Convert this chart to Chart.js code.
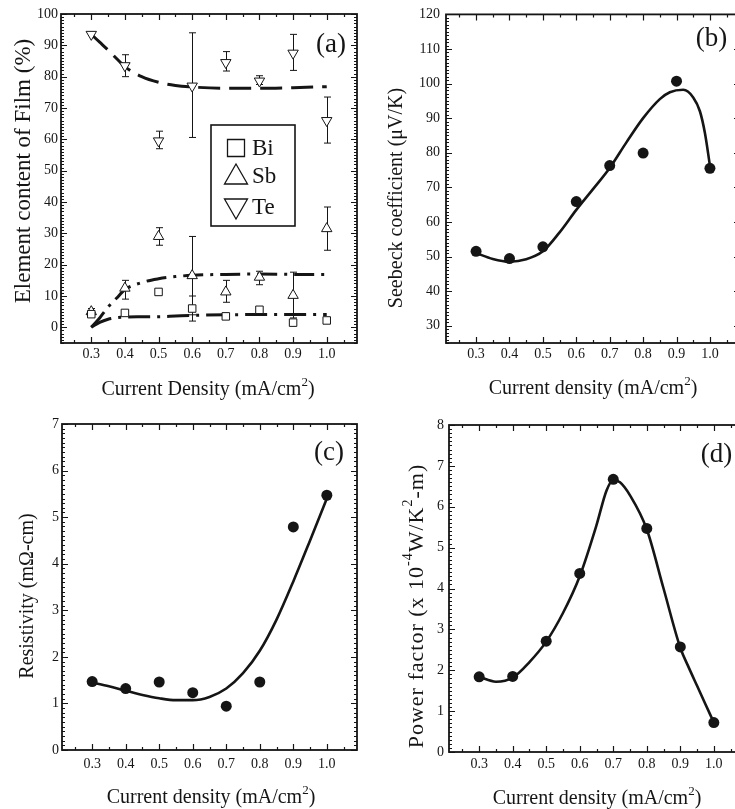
<!DOCTYPE html>
<html>
<head>
<meta charset="utf-8">
<script src="https://cdn.jsdelivr.net/npm/chart.js@4.4.0/dist/chart.umd.min.js"></script>
<style>
  html, body { margin: 0; padding: 0; background: #fff; width: 735px; height: 809px; overflow: hidden; }
  canvas { position: absolute; display: block; }
</style>
</head>
<body>
<canvas id="panelA" width="370" height="405" style="left:0;top:0"></canvas>
<canvas id="panelB" width="390" height="405" style="left:370px;top:0"></canvas>
<canvas id="panelC" width="370" height="404" style="left:0;top:405px"></canvas>
<canvas id="panelD" width="390" height="404" style="left:370px;top:405px"></canvas>
<script>
// ---------- data ----------
const currentDensity = [0.3, 0.4, 0.5, 0.6, 0.7, 0.8, 0.9, 1.0];
const xTickValues = [0.3, 0.4, 0.5, 0.6, 0.7, 0.8, 0.9, 1.0];

// (a) film composition (%)
const elementNames = ['Bi', 'Sb', 'Te'];
const biContent = [4.2, 4.6, 11.3, 6.0, 3.5, 5.6, 1.5, 2.2];
const sbContent = [5.0, 12.5, 29.0, 16.5, 11.3, 16.0, 10.2, 31.5];
const teContent = [93.5, 83.5, 59.5, 77.0, 84.5, 78.6, 87.5, 66.0];
const biErrLow  = [null, 3.8, null, 2.0, null, null, null, null];
const biErrHigh = [null, 5.4, null, 10.0, null, null, null, null];
const sbErrLow  = [4.0, 9.0, 26.2, 4.0, 8.0, 13.6, 3.0, 24.6];
const sbErrHigh = [6.0, 15.0, 31.8, 29.0, 15.0, 17.9, 17.6, 38.4];
const teErrLow  = [null, 80.0, 57.0, 60.6, 81.8, 77.5, 82.0, 58.8];
const teErrHigh = [null, 87.0, 62.6, 94.0, 88.0, 80.3, 93.5, 73.5];
const compFitDensity = [0.3, 0.325, 0.35, 0.375, 0.4, 0.45, 0.5, 0.55, 0.6, 0.7, 0.8, 0.9, 1.0];
const teFit = [93.5, 91.0, 88.5, 85.8, 83.2, 80.0, 78.2, 77.2, 76.7, 76.3, 76.3, 76.5, 76.8];
const sbFit = [0.0, 3.0, 6.5, 9.3, 12.0, 14.3, 15.5, 16.2, 16.6, 16.9, 17.0, 16.9, 16.9];
const biFit = [0.0, 1.6, 2.6, 3.1, 3.3, 3.35, 3.4, 3.6, 3.8, 4.0, 4.1, 4.1, 4.1];
const yTicksA = [0, 10, 20, 30, 40, 50, 60, 70, 80, 90, 100];

// (b) Seebeck coefficient (uV/K)
const seebeck = [51.5, 49.4, 52.8, 65.9, 76.3, 79.9, 100.7, 75.5];
const seebeckFitDensity = [0.3, 0.35, 0.4, 0.45, 0.5, 0.55, 0.6, 0.65, 0.7, 0.75, 0.8, 0.85, 0.88, 0.92, 0.95, 0.97, 0.985, 1.0];
const seebeckFit = [51.0, 49.3, 48.5, 49.2, 51.5, 57.0, 63.5, 69.5, 75.6, 83.0, 90.0, 95.5, 97.5, 98.2, 96.0, 92.0, 85.7, 76.3];
const yTicksB = [30, 40, 50, 60, 70, 80, 90, 100, 110, 120];

// (c) resistivity (mOhm-cm)
const resistivity = [1.47, 1.32, 1.46, 1.23, 0.94, 1.46, 4.79, 5.47];
const resistivityFitDensity = [0.3, 0.35, 0.4, 0.45, 0.5, 0.55, 0.6, 0.65, 0.7, 0.75, 0.8, 0.85, 0.9, 0.95, 1.0];
const resistivityFit = [1.45, 1.37, 1.27, 1.18, 1.11, 1.07, 1.07, 1.14, 1.32, 1.65, 2.13, 2.8, 3.62, 4.5, 5.4];
const yTicksC = [0, 1, 2, 3, 4, 5, 6, 7];

// (d) power factor (x 10^-4 W/K^2-m)
const powerFactor = [1.84, 1.85, 2.71, 4.37, 6.67, 5.47, 2.57, 0.72];
const powerFitDensity = [0.3, 0.35, 0.4, 0.45, 0.5, 0.55, 0.6, 0.65, 0.68, 0.7, 0.72, 0.75, 0.8, 0.85, 0.9, 0.925, 0.95, 0.975, 1.0];
const powerFit = [1.84, 1.72, 1.82, 2.2, 2.7, 3.4, 4.3, 5.55, 6.4, 6.65, 6.6, 6.28, 5.45, 4.0, 2.55, 2.07, 1.62, 1.17, 0.72];
const yTicksD = [0, 1, 2, 3, 4, 5, 6, 7, 8];

// ---------- helpers ----------
const serif = '"Liberation Serif", "Times New Roman", serif';
const ink = '#151515';
const pairs = (xs, ys) => xs.map((x, i) => ({ x, y: ys[i] }));

// rich text: array of segments, each {t, sup}
function drawRich(ctx, segs, cx, cy, size, rot, spacing) {
  ctx.save();
  ctx.translate(cx, cy);
  if (rot) ctx.rotate(rot);
  ctx.fillStyle = ink;
  ctx.textBaseline = 'middle';
  ctx.textAlign = 'left';
  if (spacing) ctx.letterSpacing = spacing + 'px';
  const supSize = Math.round(size * 0.65);
  let total = 0;
  const widths = segs.map(s => {
    ctx.font = `${s.sup ? supSize : size}px ${serif}`;
    const w = ctx.measureText(s.t).width;
    total += w;
    return w;
  });
  let x = -total / 2;
  segs.forEach((s, i) => {
    ctx.font = `${s.sup ? supSize : size}px ${serif}`;
    ctx.fillText(s.t, x, s.sup ? -size * 0.38 : 0);
    x += widths[i];
  });
  ctx.restore();
}

// closed box with inward major/minor ticks on all four sides
const frameTicks = {
  id: 'frameTicks',
  afterDatasetsDraw(chart, args, o) {
    const { ctx, chartArea: a, scales: { x, y } } = chart;
    ctx.save();
    ctx.strokeStyle = ink;
    ctx.lineWidth = 1.2;
    ctx.beginPath();
    const tx = (v, len) => {
      const p = Math.round(x.getPixelForValue(v)) + 0.5;
      ctx.moveTo(p, a.bottom); ctx.lineTo(p, a.bottom - len);
      ctx.moveTo(p, a.top); ctx.lineTo(p, a.top + len);
    };
    const ty = (v, len) => {
      const p = Math.round(y.getPixelForValue(v)) + 0.5;
      ctx.moveTo(a.left, p); ctx.lineTo(a.left + len, p);
      ctx.moveTo(a.right, p); ctx.lineTo(a.right - len, p);
    };
    for (let k = Math.ceil(x.min / o.xMinor - 1e-6); k * o.xMinor <= x.max + 1e-9; k++) tx(k * o.xMinor, 3);
    for (let k = Math.ceil(y.min / o.yMinor - 1e-6); k * o.yMinor <= y.max + 1e-9; k++) ty(k * o.yMinor, 3);
    o.xMajor.forEach(v => tx(v, 6));
    o.yMajor.forEach(v => ty(v, 6));
    ctx.stroke();
    ctx.lineWidth = 1.8;
    ctx.strokeRect(a.left, a.top, a.right - a.left, a.bottom - a.top);
    ctx.restore();
  }
};

// vertical error bars with short caps, read from errLow / errHigh of a dataset
const errorBars = {
  id: 'errorBars',
  beforeDatasetsDraw(chart) {
    const { ctx, scales: { x, y } } = chart;
    ctx.save();
    ctx.strokeStyle = ink;
    ctx.lineWidth = 1;
    ctx.beginPath();
    chart.data.datasets.forEach(ds => {
      if (!ds.errLow) return;
      ds.data.forEach((pt, i) => {
        const lo = ds.errLow[i], hi = ds.errHigh[i];
        if (lo == null || hi == null) return;
        const px = Math.round(x.getPixelForValue(pt.x)) + 0.5;
        const yl = y.getPixelForValue(lo), yh = y.getPixelForValue(hi);
        ctx.moveTo(px, yl); ctx.lineTo(px, yh);
        ctx.moveTo(px - 3.5, yl); ctx.lineTo(px + 3.5, yl);
        ctx.moveTo(px - 3.5, yh); ctx.lineTo(px + 3.5, yh);
      });
    });
    ctx.stroke();
    ctx.restore();
  }
};

// axis titles and panel letters
const panelText = {
  id: 'panelText',
  afterDraw(chart, args, o) {
    const ctx = chart.ctx;
    o.items.forEach(it => drawRich(ctx, it.segs, it.x, it.y, it.size, it.rot || 0, it.spacing || 0));
  }
};

// boxed legend with large open symbols
const elementLegend = {
  id: 'elementLegend',
  afterDraw(chart, args, o) {
    const ctx = chart.ctx;
    ctx.save();
    ctx.fillStyle = '#fff';
    ctx.fillRect(o.left, o.top, o.width, o.height);
    ctx.strokeStyle = ink;
    ctx.lineWidth = 1.6;
    ctx.strokeRect(o.left, o.top, o.width, o.height);
    ctx.lineWidth = 1.3;
    ctx.fillStyle = ink;
    ctx.textBaseline = 'middle';
    ctx.textAlign = 'left';
    ctx.font = `${o.fontSize}px ${serif}`;
    o.rows.forEach((r, i) => {
      const cx = o.markerX, cy = o.rowY[i];
      ctx.beginPath();
      if (r.shape === 'square') {
        ctx.rect(cx - 8.5, cy - 8.5, 17, 17);
      } else {
        const d = r.shape === 'down' ? 1 : -1;
        ctx.moveTo(cx, cy + d * 12);
        ctx.lineTo(cx + 11.5, cy - d * 8);
        ctx.lineTo(cx - 11.5, cy - d * 8);
        ctx.closePath();
      }
      ctx.stroke();
      ctx.fillText(r.label, o.textX, cy + 1);
    });
    ctx.restore();
  }
};

const xRange = [0.21, 1.09];

function makePanel(id, p) {
  return new Chart(document.getElementById(id), {
    type: 'scatter',
    data: { datasets: p.datasets },
    options: {
      responsive: false,
      animation: false,
      devicePixelRatio: 1,
      events: [],
      layout: { padding: { left: 0, top: p.area.top, right: p.width - p.area.right, bottom: 0 } },
      plugins: {
        legend: { display: false },
        tooltip: { enabled: false },
        frameTicks: { xMajor: xTickValues, xMinor: 0.05, yMajor: p.yTicks, yMinor: p.yMinor },
        panelText: { items: p.texts },
        elementLegend: p.legend || false
      },
      scales: {
        x: {
          type: 'linear', position: 'bottom', min: xRange[0], max: xRange[1],
          grid: { display: false, drawTicks: false }, border: { display: false },
          ticks: { font: { family: serif, size: 14 }, color: ink, padding: p.xPad, maxRotation: 0, autoSkip: false,
                   callback: v => Number(v).toFixed(1) },
          afterBuildTicks: s => { s.ticks = xTickValues.map(v => ({ value: v })); },
          afterFit: s => { s.height = p.height - p.area.bottom; }
        },
        y: {
          type: 'linear', position: 'left', min: p.yRange[0], max: p.yRange[1],
          grid: { display: false, drawTicks: false }, border: { display: false },
          ticks: { font: { family: serif, size: 14 }, color: ink, padding: p.yPad, autoSkip: false,
                   callback: v => String(v) },
          afterBuildTicks: s => { s.ticks = p.yTicks.map(v => ({ value: v })); },
          afterFit: s => { s.width = p.area.left; }
        }
      }
    },
    plugins: [errorBars, frameTicks, panelText, elementLegend]
  });
}

const sup = t => ({ t, sup: true });
const txt = t => ({ t });
const densityTitle = word => [txt(`Current ${word} (mA/cm`), sup('2'), txt(')')];

const fitLine = (xs, ys, dash) => ({
  data: pairs(xs, ys), showLine: true, pointRadius: 0, borderColor: ink, borderWidth: dash ? 3 : 2.6,
  borderDash: dash || [], cubicInterpolationMode: 'monotone', fill: false
});
const filledPoints = ys => ({
  data: pairs(currentDensity, ys), pointRadius: 5.5, pointBackgroundColor: ink, pointBorderColor: ink,
  pointBorderWidth: 0, showLine: false
});
const openPoints = (label, ys, lo, hi, style, radius, rotation) => ({
  label, data: pairs(currentDensity, ys), errLow: lo, errHigh: hi, showLine: false,
  pointStyle: style, pointRadius: radius, pointRotation: rotation || 0,
  pointBackgroundColor: '#fff', pointBorderColor: ink, pointBorderWidth: 1
});

// (a) element content
makePanel('panelA', {
  width: 370, height: 405,
  area: { left: 61, top: 14, right: 357, bottom: 343 },
  yRange: [-5, 100], yTicks: yTicksA, yMinor: 1, xPad: 3, yPad: 3,
  datasets: [
    openPoints(elementNames[0], biContent, biErrLow, biErrHigh, 'rect', 5.3),
    openPoints(elementNames[1], sbContent, sbErrLow, sbErrHigh, 'triangle', 6),
    openPoints(elementNames[2], teContent, teErrLow, teErrHigh, 'triangle', 6, 180),
    fitLine(compFitDensity, teFit, [22, 9]),
    fitLine(compFitDensity, sbFit, [20, 7, 3, 7]),
    fitLine(compFitDensity, biFit, [22, 7, 3, 7])
  ],
  legend: {
    left: 211, top: 125, width: 84, height: 101, markerX: 236, textX: 252, fontSize: 23,
    rowY: [148, 176, 207],
    rows: [
      { label: elementNames[0], shape: 'square' },
      { label: elementNames[1], shape: 'up' },
      { label: elementNames[2], shape: 'down' }
    ]
  },
  texts: [
    { segs: densityTitle('Density'), x: 208, y: 390, size: 20 },
    { segs: [txt('Element content of Film (%)')], x: 23.5, y: 171, size: 23, rot: -Math.PI / 2 },
    { segs: [txt('(a)')], x: 331, y: 45, size: 27 }
  ]
});

// (b) Seebeck coefficient
makePanel('panelB', {
  width: 390, height: 405,
  area: { left: 76, top: 14, right: 370, bottom: 343 },
  yRange: [25, 120], yTicks: yTicksB, yMinor: 1, xPad: 3, yPad: 6,
  datasets: [
    filledPoints(seebeck),
    fitLine(seebeckFitDensity, seebeckFit)
  ],
  texts: [
    { segs: densityTitle('density'), x: 223, y: 389, size: 20 },
    { segs: [txt('Seebeck coefficient (\u03bcV/K)')], x: 27, y: 198, size: 20, rot: -Math.PI / 2 },
    { segs: [txt('(b)')], x: 341.5, y: 38.5, size: 27 }
  ]
});

// (c) resistivity
makePanel('panelC', {
  width: 370, height: 404,
  area: { left: 62, top: 19, right: 357, bottom: 345 },
  yRange: [0, 7], yTicks: yTicksC, yMinor: 0.1, xPad: 6, yPad: 3,
  datasets: [
    filledPoints(resistivity),
    fitLine(resistivityFitDensity, resistivityFit)
  ],
  texts: [
    { segs: densityTitle('density'), x: 211, y: 393, size: 20 },
    { segs: [txt('Resistivity (m\u03a9-cm)')], x: 28, y: 191, size: 20, rot: -Math.PI / 2 },
    { segs: [txt('(c)')], x: 329, y: 48, size: 27 }
  ]
});

// (d) power factor
makePanel('panelD', {
  width: 390, height: 404,
  area: { left: 79, top: 20, right: 374, bottom: 347 },
  yRange: [0, 8], yTicks: yTicksD, yMinor: 0.1, xPad: 4, yPad: 5,
  datasets: [
    filledPoints(powerFactor),
    fitLine(powerFitDensity, powerFit)
  ],
  texts: [
    { segs: densityTitle('density'), x: 227, y: 394, size: 20 },
    { segs: [txt('Power factor (x 10'), sup('-4'), txt('W/K'), sup('2'), txt('-m)')], x: 47, y: 201, size: 22, rot: -Math.PI / 2, spacing: 1 },
    { segs: [txt('(d)')], x: 346.5, y: 50, size: 27 }
  ]
});
</script>
</body>
</html>
